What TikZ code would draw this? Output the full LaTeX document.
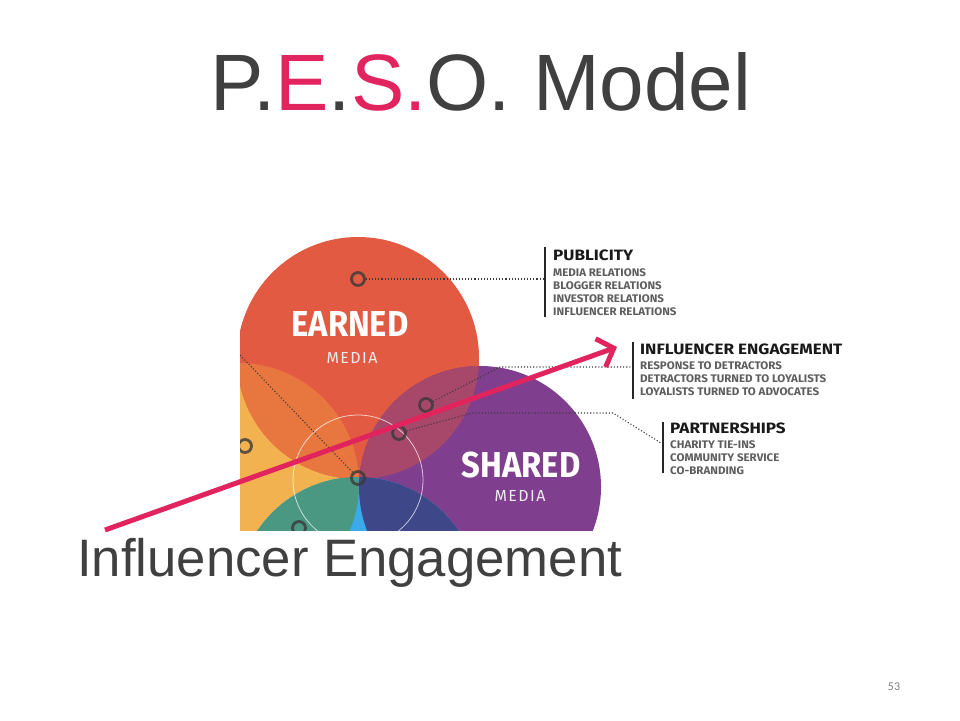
\documentclass[tikz,border=0pt]{standalone}
\usepackage{fontspec}
\setmainfont{Liberation Sans}
\newfontfamily\labelfont{Fira Sans}
\newfontfamily\pagefont{Carlito}
\usetikzlibrary{arrows.meta, positioning, calc}
\definecolor{slidegrey}{HTML}{404040}
\definecolor{pesopink}{HTML}{E2245E}
\definecolor{earnedred}{HTML}{E35A42}
\definecolor{sharedpurple}{HTML}{7F3F8E}
\definecolor{paidyellow}{HTML}{F1B24F}
\definecolor{ownedblue}{HTML}{3AAAE8}
\definecolor{mixorange}{HTML}{E8773F}
\definecolor{mixmauve}{HTML}{A7486A}
\definecolor{mixteal}{HTML}{4A9782}
\definecolor{mixnavy}{HTML}{3E4788}
\definecolor{ringgrey}{HTML}{3A3A3A}
\definecolor{itemgrey}{HTML}{5E5E5E}
\tikzset{
  ring/.style={circle, draw=ringgrey, draw opacity=0.8, line width=2.8pt,
    minimum size=13pt, inner sep=0pt},
  leader/.style={dotted, line width=1.1pt, ringgrey},
  bar/.style={line width=1.3pt, black!85},
  headtext/.style={anchor=base west, inner sep=0pt, text=black!90, xscale=1.14,
    font=\labelfont\bfseries\fontsize{15}{16}\selectfont},
  itemtext/.style={anchor=base west, inner sep=0pt, text=itemgrey, xscale=1.05,
    font=\labelfont\bfseries\fontsize{11}{13}\selectfont},
  bigword/.style={inner sep=0pt, text=white, xscale=0.91,
    font=\labelfont\bfseries\fontsize{36}{36}\selectfont},
  mediaword/.style={inner sep=0pt, text=white!92!black,
    font=\labelfont\fontsize{16}{16}\selectfont\addfontfeature{LetterSpace=9}},
  pointer/.style={-{Straight Barb[length=14pt, width=30pt]}, line width=5pt, pesopink},
}
\begin{document}
\begin{tikzpicture}[x=1pt, y=-1pt]
\useasboundingbox (0,0) rectangle (960,720);

% title
\node[anchor=base west, inner sep=0pt, text=slidegrey, font=\fontsize{80}{80}\selectfont]
  (title) at (210,110) {P.\textcolor{pesopink}{E}.\textcolor{pesopink}{S.}O. Model};

% the four overlapping circles
\coordinate (E) at (358,358);
\coordinate (S) at (480,487);
\coordinate (B) at (358,598);
\coordinate (Y) at (238,484);
\begin{scope}
  \clip (240,225) rectangle (603,530);
  \fill[paidyellow] (Y) circle (121);
  \fill[earnedred] (E) circle (121);
  \fill[sharedpurple] (S) circle (121);
  \fill[ownedblue] (B) circle (121);
  \begin{scope}
    \clip (E) circle (121);
    \fill[mixorange] (Y) circle (121);
    \fill[mixmauve] (S) circle (121);
  \end{scope}
  \begin{scope}
    \clip (B) circle (121);
    \fill[mixteal] (Y) circle (121);
    \fill[mixnavy] (S) circle (121);
  \end{scope}
  \draw[white, line width=0.8pt, opacity=0.7] (358,480) circle (65);
  \node[ring] (rpaid) at (245,446) {};
  \node[ring] (rowned) at (299,528) {};
\end{scope}

\node[bigword] (earned) at (350,324.5) {EARNED};
\node[mediaword] (earnedmedia) at (352,357.5) {MEDIA};
\node[bigword] (shared) at (521,465.5) {SHARED};
\node[mediaword] (sharedmedia) at (520,496) {MEDIA};

\node[ring] (rpub) at (358,279) {};
\node[ring] (rinf) at (426,405) {};
\node[ring] (rpart) at (399,433) {};
\node[ring] (rmid) at (358,478) {};

% publicity
\draw[bar] (545,247) -- (545,317);
\node[headtext] (pub) at (553,260) {PUBLICITY};
\foreach \txt [count=\i] in {MEDIA RELATIONS, BLOGGER RELATIONS, INVESTOR RELATIONS, INFLUENCER RELATIONS}
  \node[itemtext] (pub\i) at (553,263+13*\i) {\txt};

% influencer engagement
\draw[bar] (633,342) -- (633,399);
\node[headtext] (inf) at (640,354) {INFLUENCER ENGAGEMENT};
\foreach \txt [count=\i] in {RESPONSE TO DETRACTORS, DETRACTORS TURNED TO LOYALISTS, LOYALISTS TURNED TO ADVOCATES}
  \node[itemtext] (inf\i) at (640,356+13*\i) {\txt};

% partnerships
\draw[bar] (663,422) -- (663,473);
\node[headtext] (part) at (670,433) {PARTNERSHIPS};
\foreach \txt [count=\i] in {CHARITY TIE-INS, COMMUNITY SERVICE, CO-BRANDING}
  \node[itemtext] (part\i) at (670,435+13*\i) {\txt};

% leaders
\coordinate (pubend) at (543,279);
\coordinate (infbend) at (500,367);
\coordinate (infend) at (631,367);
\coordinate (partbend) at (472,413);
\coordinate (partknee) at (613,413);
\coordinate (partend) at (661,443);
\coordinate (midend) at (240,355);
\draw[leader] (rpub) -- (pubend);
\draw[leader] (rinf) -- (infbend) -- (infend);
\draw[leader] (rpart) -- (partbend) -- (partknee) -- (partend);
\draw[leader] (rmid) -- (midend);

% caption and pointer
\node[anchor=base west, inner sep=0pt, text=slidegrey, font=\fontsize{52.7}{53}\selectfont]
  (caption) at (77,576) {Influencer Engagement};
\coordinate (tail) at (105,530);
\coordinate (tip) at (617,347);
\draw[pointer] (tail) -- (tip);

\node[text=black!50, font=\pagefont\fontsize{12}{12}\selectfont] (page) at (894,687) {53};
\end{tikzpicture}
\end{document}
